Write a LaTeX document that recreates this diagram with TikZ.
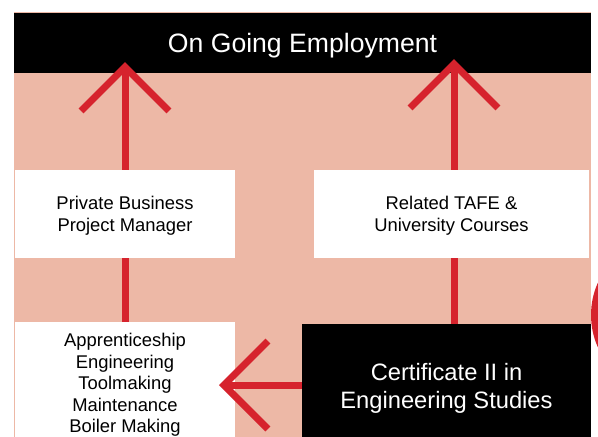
\documentclass[tikz,border=0pt]{standalone}
\usepackage{fontspec}
\setmainfont{Liberation Sans}
\usepackage{xcolor}
\usepackage{tikz}
\usetikzlibrary{arrows.meta, positioning}
\definecolor{PathSalmon}{RGB}{237,184,166}
\definecolor{PathRed}{RGB}{214,35,45}
\tikzset{
    titlebar/.style={
        fill=black, text=white, minimum width=577pt, minimum height=60pt, inner sep=0pt,
        text depth=0pt, font=\fontsize{26.6}{30}\selectfont
    },
    infobox/.style={
        fill=white, text=black, minimum width=220pt, minimum height=88pt, inner sep=0pt,
        text depth=-1pt, align=center, font=\fontsize{18.4}{21.5}\selectfont
    },
    darkbox/.style={
        fill=black, text=white, inner sep=0pt, align=center, text depth=-1pt,
        font=\fontsize{23.7}{27.5}\selectfont
    },
    ptr/.style={
        PathRed, line width=7pt, -{Straight Barb[length=44pt, width=88pt]}
    },
    link/.style={
        PathRed, line width=7pt
    }
}
\begin{document}
\begin{tikzpicture}[x=1pt, y=-1pt]
    \useasboundingbox (0,0) rectangle (598,437);
    \clip (0,0) rectangle (598,437);
    \fill[PathSalmon] (14,12) rectangle (591,437);
    \fill[PathRed] (670,315) circle (79pt);

    \node[titlebar] (employ) at (302.5,43) {On Going Employment};
    \node[infobox] (private) at (125,214) {Private Business\\Project Manager};
    \node[infobox, minimum width=275pt] (related) at (451.5,214) {Related TAFE \&\\University Courses};
    \node[infobox, minimum height=122pt] (apprentice) at (125,383) {Apprenticeship\\Engineering\\Toolmaking\\Maintenance\\Boiler Making};
    \node[darkbox, minimum width=289pt, minimum height=124pt] (cert) at (446.5,386) {Certificate II in\\Engineering Studies};

    % tips of the red arrows
    \coordinate (lefttip) at (125,62);
    \coordinate (righttip) at (454,59);
    \coordinate (sidetip) at (219,385);

    \draw[link] (apprentice) -- (private);
    \draw[ptr] (private) -- (lefttip);
    \draw[link] (cert.north -| righttip) -- (related.south -| righttip);
    \draw[ptr] (related.north -| righttip) -- (righttip);
    \draw[ptr] (cert.west |- sidetip) -- (sidetip);
\end{tikzpicture}
\end{document}
